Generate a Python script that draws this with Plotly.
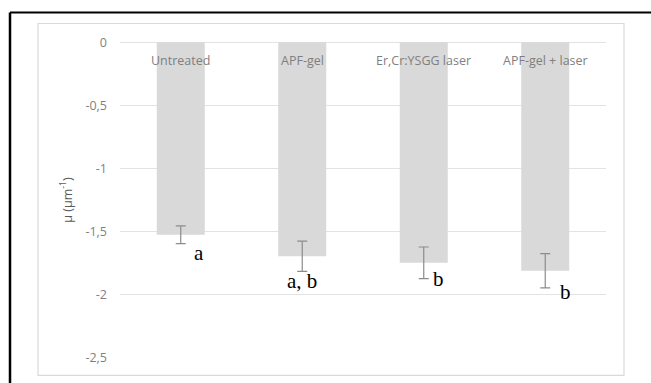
import plotly.graph_objects as go

categories = ["Untreated", "APF-gel", "Er,Cr:YSGG laser", "APF-gel + laser"]
values = [-1.525, -1.695, -1.747, -1.81]
errors = [0.07, 0.12, 0.125, 0.135]
letters = ["a", "a, b", "b", "b"]
letter_y = [-1.67, -1.895, -1.875, -1.98]
letter_dx = [0.15, 0.0, 0.12, 0.17]
y_ticks = [0, -0.5, -1, -1.5, -2, -2.5]
y_tick_labels = ["0", "-0,5", "-1", "-1,5", "-2", "-2,5"]

W, H = 651, 383
L, R, T, B = 120, 45, 41.5, 25.3
pw = W - L - R
ph = H - T - B

def px(x):
    return (x - L) / pw

def py(y):
    return (H - B - y) / ph

fig = go.Figure()
fig.add_trace(go.Bar(
    x=categories, y=values,
    marker=dict(color="#d9d9d9", line=dict(width=0)),
    error_y=dict(type="data", array=errors, visible=True, color="#8c8c8c",
                 thickness=1.2, width=5),
    width=0.395,
))

for i, c in enumerate(categories):
    fig.add_annotation(x=c, y=0, xref="x", yref="y", text=c, showarrow=False,
                       yanchor="middle", yshift=-18,
                       font=dict(family="Open Sans", size=12.5, color="#7f7f7f"))

for i, t in enumerate(letters):
    fig.add_annotation(x=i + letter_dx[i], y=letter_y[i], xref="x", yref="y", text=t,
                       showarrow=False,
                       font=dict(family="Liberation Serif", size=21, color="black"))

fig.update_layout(
    width=W, height=H,
    margin=dict(l=L, r=R, t=T, b=B),
    paper_bgcolor="white", plot_bgcolor="white",
    showlegend=False,
    xaxis=dict(showticklabels=False, showgrid=False, zeroline=False,
               showline=False, ticks="", automargin=False, range=[-0.5, 3.5]),
    yaxis=dict(range=[-2.501, 0.001], tickvals=y_ticks, ticktext=y_tick_labels,
               showgrid=True, gridcolor="#e3e3e3", gridwidth=1,
               zeroline=True, zerolinecolor="#e3e3e3", zerolinewidth=1,
               showline=False, ticks="", ticklabelstandoff=12, automargin=False,
               tickfont=dict(family="Open Sans", size=12.5, color="#7f7f7f"),
               title=dict(text="μ (μm<sup>-1</sup>)", standoff=10,
                          font=dict(family="Open Sans", size=12.5, color="#595959"))),
    shapes=[
        dict(type="rect", xref="paper", yref="paper",
             x0=px(38), x1=px(624), y0=py(375), y1=py(23),
             line=dict(color="#d9d9d9", width=1.2), layer="below"),
        dict(type="line", xref="paper", yref="paper",
             x0=px(10), x1=px(651), y0=py(12), y1=py(12),
             line=dict(color="black", width=2)),
        dict(type="line", xref="paper", yref="paper",
             x0=px(10), x1=px(10), y0=py(12), y1=py(383),
             line=dict(color="black", width=2.5)),
    ],
)

fig.write_html("out.html", config={"displayModeBar": False},
               post_script="document.body.style.margin='0';document.body.style.overflow='hidden';")
